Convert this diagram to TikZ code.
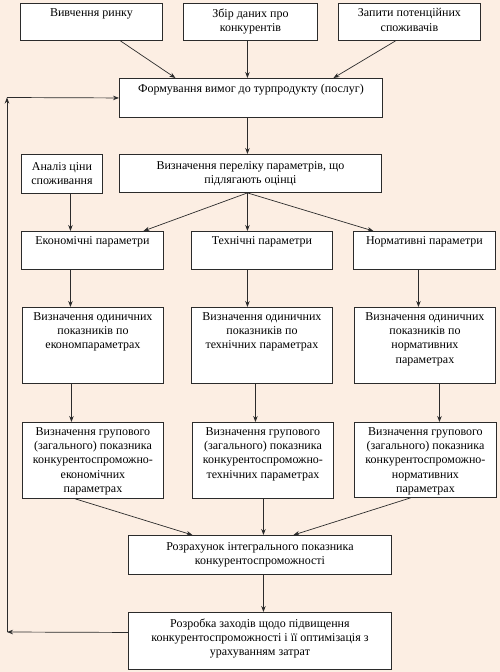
\documentclass[tikz,border=0pt]{standalone}
\usepackage{fontspec}
\setmainfont{Liberation Serif}
\usetikzlibrary{arrows.meta,calc}
\definecolor{bgc}{HTML}{FCEEE3}
\definecolor{ln}{HTML}{2B2B2B}
\begin{document}
\begin{tikzpicture}[x=1pt,y=-1pt,
  box/.style={draw=ln,line width=0.9pt,fill=white,inner sep=0pt,anchor=north west},
  lbl/.style={inner sep=0pt,align=center,font=\fontsize{12}{14.2}\selectfont,text=black},
  arr/.style={draw=ln,line width=0.7pt,-{Stealth[length=6pt,width=4.5pt]}}]
\fill[bgc] (0,0) rectangle (500,672);
\useasboundingbox (0,0) rectangle (500,672);
% macro-free boxes
\node[box,minimum width=142pt,minimum height=37pt] (t1) at (20,3) {};
\node[box,minimum width=134pt,minimum height=37pt] (t2) at (183,3) {};
\node[box,minimum width=142pt,minimum height=37pt] (t3) at (338,3) {};
\node[lbl,anchor=north] at ($(t1.north)+(0,-5.5pt)$) {Вивчення ринку};
\node[lbl,anchor=north] at ($(t2.north)+(0,-5.5pt)$) {Збір даних про\\конкурентів};
\node[lbl,anchor=north] at ($(t3.north)+(0,-5.5pt)$) {Запити потенційних\\споживачів};

\node[box,minimum width=263pt,minimum height=39pt] (f) at (119,78) {};
\node[lbl,anchor=north] at ($(f.north)+(0,-6pt)$) {Формування вимог до турпродукту (послуг)};

\node[box,minimum width=81pt,minimum height=39pt] (a) at (21,154) {};
\node[lbl] at (a.center) {Аналіз ціни\\споживання};
\node[box,minimum width=262pt,minimum height=38pt] (v) at (119,154) {};
\node[lbl] at (v.center) {Визначення переліку параметрів, що\\підлягають оцінці};

\node[box,minimum width=142pt,minimum height=38pt] (e1) at (21,231) {};
\node[box,minimum width=141pt,minimum height=38pt] (e2) at (191,231) {};
\node[box,minimum width=142pt,minimum height=38pt] (e3) at (353,231) {};
\node[lbl,anchor=north] at ($(e1.north)+(0,-5.5pt)$) {Економічні параметри};
\node[lbl,anchor=north] at ($(e2.north)+(0,-5.5pt)$) {Технічні параметри};
\node[lbl,anchor=north] at ($(e3.north)+(0,-5.5pt)$) {Нормативні параметри};

\node[box,minimum width=141pt,minimum height=76pt] (g1) at (22,307) {};
\node[box,minimum width=141pt,minimum height=76pt] (g2) at (191,307) {};
\node[box,minimum width=141pt,minimum height=76pt] (g3) at (354,307) {};
\node[lbl,anchor=north] at ($(g1.north)+(0,-5.5pt)$) {Визначення одиничних\\показників по\\економпараметрах};
\node[lbl,anchor=north] at ($(g2.north)+(0,-5.5pt)$) {Визначення одиничних\\показників по\\технічних параметрах};
\node[lbl,anchor=north] at ($(g3.north)+(0,-5.5pt)$) {Визначення одиничних\\показників по\\нормативних\\параметрах};

\node[box,minimum width=141pt,minimum height=76pt] (h1) at (22,422) {};
\node[box,minimum width=141pt,minimum height=76pt] (h2) at (192,422) {};
\node[box,minimum width=142pt,minimum height=75pt] (h3) at (354,422) {};
\node[lbl,anchor=north] at ($(h1.north)+(0,-5.5pt)$) {Визначення групового\\(загального) показника\\конкурентоспроможно-\\економічних\\параметрах};
\node[lbl,anchor=north] at ($(h2.north)+(0,-5.5pt)$) {Визначення групового\\(загального) показника\\конкурентоспроможно-\\технічних параметрах};
\node[lbl,anchor=north] at ($(h3.north)+(0,-5.5pt)$) {Визначення групового\\(загального) показника\\конкурентоспроможно-\\нормативних\\параметрах};

\node[box,minimum width=263pt,minimum height=39pt] (r) at (128,535) {};
\node[lbl] at (r.center) {Розрахунок інтегрального показника\\конкурентоспроможності};
\node[box,minimum width=263pt,minimum height=57pt] (p) at (128,612) {};
\node[lbl] at ($(p.center)+(0,2.5pt)$) {Розробка заходів щодо підвищення\\конкурентоспроможності і її оптимізація з\\урахуванням затрат};

% connectors
\draw[arr] ([xshift=29pt]t1.south) -- ([xshift=-75.5pt]f.north);
\draw[arr] ([xshift=-3pt]t2.south) -- ([xshift=-3.5pt]f.north);
\draw[arr] ([xshift=-14pt]t3.south) -- ([xshift=82.5pt]f.north);
\draw[arr] ([xshift=-3.5pt]f.south) -- ([xshift=-3pt]v.north);
\draw[arr] ([xshift=8.5pt]a.south) -- ([xshift=-22pt]e1.north);
\draw[arr] ([xshift=-3pt]v.south) -- ([xshift=51pt]e1.north);
\draw[arr] ([xshift=-3pt]v.south) -- ([xshift=-14.5pt]e2.north);
\draw[arr] ([xshift=-3pt]v.south) -- ([xshift=-51pt]e3.north);
\draw[arr] ([xshift=-22pt]e1.south) -- ([xshift=-22.5pt]g1.north);
\draw[arr] ([xshift=-14.5pt]e2.south) -- ([xshift=-14.5pt]g2.north);
\draw[arr] ([xshift=-6pt]e3.south) -- ([xshift=-6.5pt]g3.north);
\draw[arr] ([xshift=-21.5pt]g1.south) -- ([xshift=-21.5pt]h1.north);
\draw[arr] ([xshift=-6.5pt]g2.south) -- ([xshift=-7.5pt]h2.north);
\draw[arr] ([xshift=14.5pt]g3.south) -- ([xshift=14pt]h3.north);
\draw[arr] ([xshift=-17.5pt]h1.south) -- ([xshift=-67.5pt]r.north);
\draw[arr] ([xshift=0.5pt]h2.south) -- ([xshift=3.5pt]r.north);
\draw[arr] ([xshift=-15pt]h3.south) -- ([xshift=33.5pt]r.north);
\draw[arr] ([xshift=3.5pt]r.south) -- ([xshift=3.5pt]p.north);
% feedback loop
\coordinate (c1) at (7,632);
\coordinate (c2) at (7,97.5);
\draw[arr] ([yshift=8.5pt]p.west) -- (c1);
\draw[arr] (c1) -- (c2);
\draw[arr] (c2) -- (f.west);
\end{tikzpicture}
\end{document}
